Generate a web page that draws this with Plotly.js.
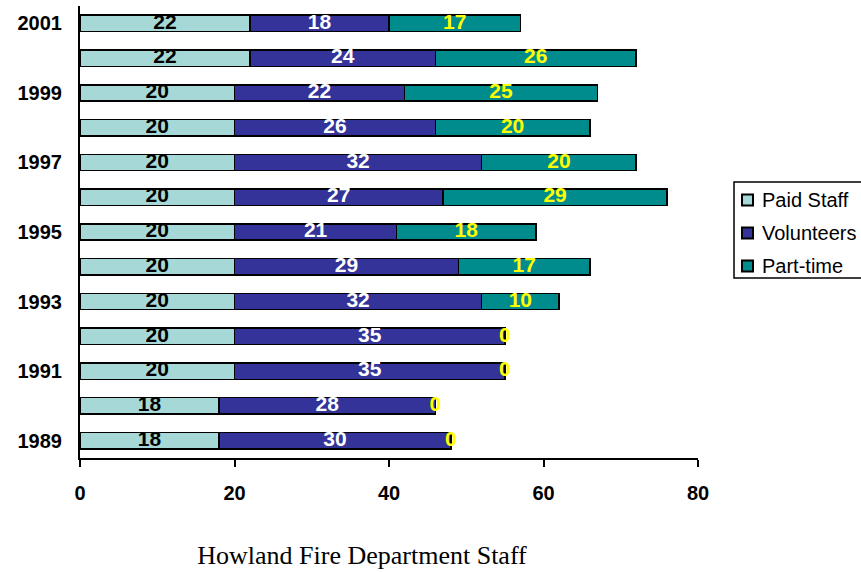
<!DOCTYPE html>
<html>
<head>
<meta charset="utf-8">
<script src="https://cdn.plot.ly/plotly-3.0.1.min.js"></script>
<style>html,body{margin:0;padding:0;background:#fff;}#chart{width:861px;height:572px;}</style>
</head>
<body>
<div id="chart"></div>
<script>
var years = [1989, 1990, 1991, 1992, 1993, 1994, 1995, 1996, 1997, 1998, 1999, 2000, 2001];
var paidStaff = [18, 18, 20, 20, 20, 20, 20, 20, 20, 20, 20, 22, 22];
var volunteers = [30, 28, 35, 35, 32, 29, 21, 27, 32, 26, 22, 24, 18];
var partTime = [0, 0, 0, 0, 10, 17, 18, 29, 20, 20, 25, 26, 17];
var yearTicks = [1989, 1991, 1993, 1995, 1997, 1999, 2001];
var seriesNames = ['Paid Staff', 'Volunteers', 'Part-time'];
var chartTitle = 'Howland Fire Department Staff';

var colors = ['#A6D8D8', '#333399', '#008C8C'];
var labelColors = ['#000000', '#FFFFFF', '#FFFF00'];
var series = [paidStaff, volunteers, partTime];
var SANS = 'Liberation Sans, Arial, sans-serif';

// plot area in pixels
var PL = 80, PR = 698, PT = 6, PB = 458;
function px2x(p) { return (p - PL) / (PR - PL); }
function px2y(p) { return (PB - p) / (PB - PT); }

var traces = [];
series.forEach(function (vals, i) {
  traces.push({
    type: 'bar', orientation: 'h', name: seriesNames[i],
    x: vals, y: years,
    marker: {color: colors[i], line: {color: '#000', width: 1.5}},
    width: 0.47, hoverinfo: 'x+name', showlegend: false
  });
});
// labels centered in each segment
series.forEach(function (vals, i) {
  var mids = vals.map(function (v, k) {
    var base = 0;
    for (var j = 0; j < i; j++) base += series[j][k];
    return base + v / 2;
  });
  traces.push({
    type: 'scatter', mode: 'text', x: mids, y: years,
    text: vals.map(String), showlegend: false, hoverinfo: 'skip',
    textposition: 'middle center',
    textfont: {family: SANS, size: 21, color: labelColors[i], weight: 'bold'},
    cliponaxis: false
  });
});

// custom legend (box, swatches, labels)
var shapes = [{
  type: 'rect', xref: 'paper', yref: 'paper',
  x0: px2x(734), x1: px2x(880), y0: px2y(182), y1: px2y(278),
  line: {color: '#000', width: 1.5}, fillcolor: '#fff', layer: 'above'
}];
var annotations = [];
var rowY = [200, 233, 266];
seriesNames.forEach(function (name, i) {
  shapes.push({
    type: 'rect', xref: 'paper', yref: 'paper',
    x0: px2x(742), x1: px2x(753), y0: px2y(rowY[i] - 5.5), y1: px2y(rowY[i] + 5.5),
    line: {color: '#000', width: 2}, fillcolor: colors[i], layer: 'above'
  });
  annotations.push({
    xref: 'paper', yref: 'paper', x: px2x(760), y: px2y(rowY[i]),
    xanchor: 'left', yanchor: 'middle', showarrow: false, text: name,
    font: {family: SANS, size: 20, color: '#000'}
  });
});

var layout = {
  width: 861, height: 572,
  margin: {l: PL, r: 861 - PR, t: PT, b: 572 - PB},
  paper_bgcolor: '#fff', plot_bgcolor: '#fff',
  barmode: 'stack',
  showlegend: false,
  font: {family: SANS, color: '#000'},
  title: {
    text: chartTitle, x: 362 / 861, xanchor: 'center', xref: 'container',
    y: 1 - 555 / 572, yref: 'container', yanchor: 'middle',
    font: {family: 'Liberation Serif, Times New Roman, serif', size: 26, color: '#000'}
  },
  xaxis: {
    range: [0, 80], tickvals: [0, 20, 40, 60, 80], showgrid: false, zeroline: false,
    showline: true, linecolor: '#000', linewidth: 2,
    ticks: 'outside', ticklen: 7, tickwidth: 2, tickcolor: '#000',
    tickfont: {size: 20, weight: 'bold', family: SANS},
    ticklabelstandoff: 9
  },
  yaxis: {
    range: [1988.5, 2001.5], tickvals: yearTicks, ticktext: yearTicks.map(String),
    showgrid: false, zeroline: false,
    showline: true, linecolor: '#000', linewidth: 2, ticks: '',
    tickfont: {size: 20, weight: 'bold', family: SANS},
    ticklabelstandoff: 12
  },
  shapes: shapes,
  annotations: annotations
};

Plotly.newPlot('chart', traces, layout, {displayModeBar: false, staticPlot: true});
</script>
</body>
</html>
